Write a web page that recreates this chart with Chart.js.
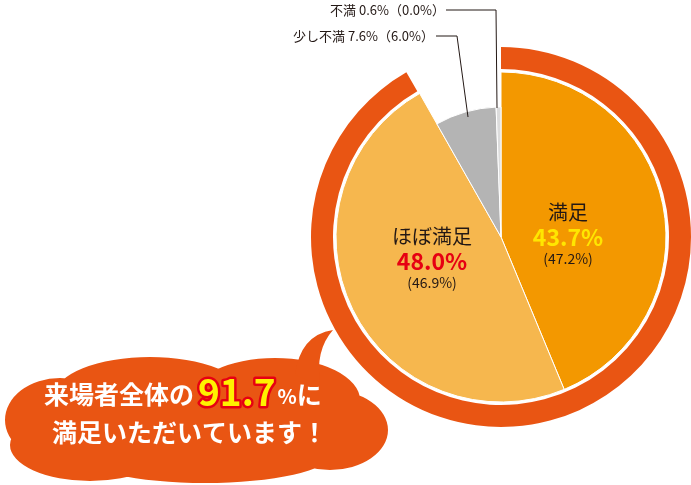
<!DOCTYPE html>
<html><head><meta charset="utf-8">
<script src="https://cdn.jsdelivr.net/npm/chart.js@4/dist/chart.umd.min.js"></script>
<style>html,body{margin:0;padding:0;background:#fff}#wrap{width:691px;height:485px;position:relative}</style>
</head><body><div id="wrap"><canvas id="c" width="691" height="485"></canvas></div>
<script>
const categories = ['満足','ほぼ満足','少し不満','不満'];
const values = [43.7, 48.0, 7.6, 0.6];
const prevValues = [47.2, 46.9, 6.0, 0.0];
const satisfiedTotal = [91.7, 8.3];
const colors = ['#F39800','#F6B74E','#B4B4B4','#DCDCDC'];
const F = '"Noto Sans CJK JP","Noto Sans",sans-serif';

const radiusPlugin = {
  id:'radii',
  beforeDatasetsDraw(chart){
    const ring = chart.getDatasetMeta(0).data;
    ring.forEach(a=>{a.innerRadius=168;a.outerRadius=190;});
    const pie = chart.getDatasetMeta(1).data;
    pie.forEach((a,i)=>{a.innerRadius=0;a.outerRadius=i>=2?130:165;});
  },
  afterDraw(chart){
    const c = chart.ctx;
    c.save();
    c.textAlign='center';c.textBaseline='middle';
    function lab(x,y,name,i,col){
      c.fillStyle='#231815';c.font='20px '+F;c.fillText(name,x,y);
      c.fillStyle=col;c.font='bold 23px '+F;c.fillText(values[i].toFixed(1)+'%',x,y+25);
      c.fillStyle='#231815';c.font='14px '+F;c.fillText('('+prevValues[i].toFixed(1)+'%)',x,y+47);
    }
    lab(568,212,categories[0],0,'#FFE600');
    lab(432,236,categories[1],1,'#E60012');
    c.textAlign='right';c.font='13px '+F;c.fillStyle='#231815';
    c.fillText(categories[3]+' '+values[3].toFixed(1)+'%（'+prevValues[3].toFixed(1)+'%）',445,10);
    c.fillText(categories[2]+' '+values[2].toFixed(1)+'%（'+prevValues[2].toFixed(1)+'%）',434,36);
    c.strokeStyle='#231815';c.lineWidth=1;
    c.beginPath();c.moveTo(446,10);c.lineTo(496,10);c.lineTo(497,108);c.stroke();
    c.beginPath();c.moveTo(436,36);c.lineTo(457,36);c.lineTo(468,117);c.stroke();
    c.fillStyle='#E95513';
    const ells=[[195,422,185,50],[150,395,95,38],[275,400,85,42],[90,445,80,36],[205,455,125,28],[330,430,58,40],[60,420,55,42]];
    c.beginPath();
    ells.forEach(e=>{c.moveTo(e[0]+e[2],e[1]);c.ellipse(e[0],e[1],e[2],e[3],0,0,Math.PI*2);});
    c.fill();
    c.beginPath();c.moveTo(295,375);c.quadraticCurveTo(300,335,333,330);c.quadraticCurveTo(315,350,320,385);c.closePath();c.fill();
    c.textAlign='left';c.textBaseline='alphabetic';
    c.font='bold 25px '+F;c.fillStyle='#fff';
    const t1='来場者全体の';c.fillText(t1,44,404);
    let x=44+c.measureText(t1).width+4;
    c.font='bold 37px '+F;c.lineJoin='round';c.lineWidth=5;c.strokeStyle='#E60012';
    const n=satisfiedTotal[0].toFixed(1);
    c.strokeText(n,x,406);c.fillStyle='#FFF100';c.fillText(n,x,406);
    x+=c.measureText(n).width+2;
    c.fillStyle='#fff';c.font='bold 20px '+F;c.fillText('%',x,404);x+=c.measureText('%').width;
    c.font='bold 25px '+F;c.fillText('に',x,404);
    c.fillText('満足いただいています！',52,442);
    c.restore();
  }
};

new Chart(document.getElementById('c'),{
  type:'pie',
  data:{labels:categories,datasets:[
    {data:satisfiedTotal,backgroundColor:['#E95513','rgba(0,0,0,0)'],borderWidth:0},
    {data:values,backgroundColor:colors,borderColor:'#fff',borderWidth:1}
  ]},
  options:{responsive:false,animation:false,
    layout:{padding:{left:311,right:0,top:47,bottom:58}},
    plugins:{legend:{display:false},tooltip:{enabled:false}}},
  plugins:[radiusPlugin]
});
</script></body></html>
